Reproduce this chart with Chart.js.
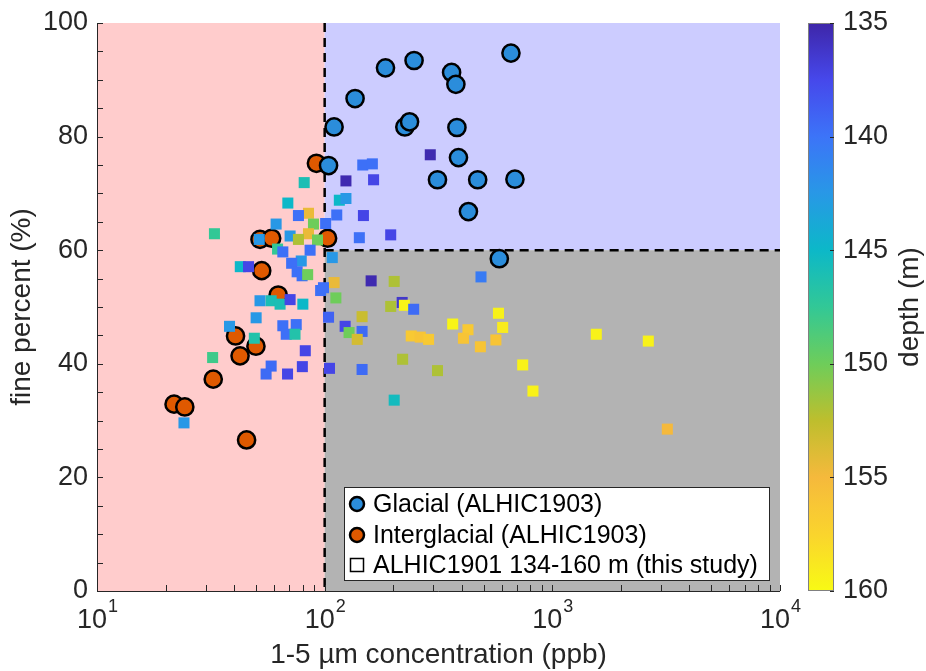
<!DOCTYPE html>
<html>
<head>
<meta charset="utf-8">
<script src="https://cdn.jsdelivr.net/npm/chart.js@4.4.1/dist/chart.umd.min.js"></script>
<style>
  body { margin: 0; background: #fff; }
  #wrap { width: 926px; height: 671px; }
</style>
</head>
<body>
<div id="wrap"><canvas id="chart" width="926" height="671"></canvas></div>
<script>
// Glacial samples (ALHIC1903)
const glacialX = [658, 185, 247, 361, 377, 136, 110, 225, 236, 381, 104, 387, 313, 470, 685, 428, 585];
const glacialY = [94.7, 92.1, 93.4, 91.3, 89.2, 86.7, 81.7, 81.7, 82.6, 81.6, 74.9, 76.3, 72.4, 72.4, 72.5, 66.8, 58.5];

// Interglacial samples (ALHIC1903)
const interX = [52, 58.5, 103, 92, 52.9, 62.5, 40.6, 49.9, 42.5, 32.4, 21.8, 24.3, 45.4];
const interY = [61.9, 62.1, 62.1, 75.3, 56.4, 52.1, 44.9, 43.1, 41.4, 37.3, 32.9, 32.4, 26.6];

// ALHIC1901 134-160 m samples, coloured by depth
const sqX = [68.9, 84.9, 76.7, 113, 61.2, 89.3, 101, 32.8, 51.6, 70.5,
             84.9, 76.7, 93.0, 62.1, 65.5, 86.3, 108, 42.6, 46.3, 78.9,
             71.6, 75.7, 79.6, 84.2, 110, 96.0, 98.8, 112, 52.0, 58.2,
             63.7, 70.5, 80.2, 50.0, 104, 38.2, 65.5, 75.0, 67.8, 74.1,
             49.1, 82.2, 32.2, 58.2, 55.3, 68.7, 79.8, 105, 24.1, 81.3,
             124, 116, 124, 147, 162, 164, 291, 148, 142, 195,
             486, 160, 202, 219, 224, 195, 246, 146, 123, 128,
             146, 139, 365, 426, 580, 605, 240, 263, 286, 407,
             483, 565, 146, 220, 313, 741, 822, 202, 1560, 2640, 3200];
const sqY = [68.3, 66.5, 66.1, 66.2, 64.6, 64.6, 64.7, 62.9, 61.9, 62.5,
             62.9, 61.9, 61.8, 60.2, 59.7, 60.0, 58.7, 57.1, 57.1, 58.1,
             57.7, 56.2, 55.5, 55.7, 54.3, 52.9, 53.4, 51.6, 51.1, 51.1,
             50.5, 51.3, 50.5, 48.1, 48.2, 46.6, 46.7, 46.9, 45.2, 45.2,
             44.5, 42.3, 41.1, 39.6, 38.2, 38.2, 39.5, 39.2, 29.6, 71.9,
             72.2, 68.8, 69.1, 75.0, 75.2, 72.4, 76.8, 66.1, 62.2, 62.7,
             55.3, 54.6, 54.5, 50.8, 50.3, 50.1, 49.6, 48.3, 46.6, 45.5,
             45.7, 44.3, 47.0, 46.0, 48.9, 46.4, 44.9, 44.7, 44.3, 44.5,
             43.0, 44.2, 39.0, 40.8, 38.8, 39.8, 35.2, 33.6, 45.2, 44.0, 28.5];
const sqDepth = [145, 154.5, 139.8, 139.8, 142.5, 150, 139.8, 147.5, 142.5, 142.5,
                 154.5, 152, 150, 147.5, 139.8, 139.8, 142.5, 145, 137.3, 142.5,
                 139.8, 139.8, 139.8, 150, 154.5, 139.8, 139.8, 150, 142.5, 146,
                 146, 137.3, 145, 142.5, 139, 142.5, 139.8, 139.8, 139.8, 146.5,
                 146.5, 137.3, 148, 139.5, 139.5, 137.3, 137.3, 137.3, 142.5, 146,
                 135.3, 145, 142.5, 139.8, 139.8, 137.3, 135.3, 137.3, 139.8, 137.3,
                 140.5, 135.3, 152, 136.3, 159.7, 152, 139.5, 153, 137.3, 150,
                 139.5, 153.5, 159.7, 156.5, 159.5, 159, 156.5, 156, 156.5, 156,
                 156, 156, 139.5, 152, 152, 159.5, 159.5, 145.5, 159.5, 159.5, 155];

const xDecades = [10, 100, 1000, 10000];
const yTicks = [0, 20, 40, 60, 80, 100];
const depthTicks = [135, 140, 145, 150, 155, 160];
const depthMin = 135, depthMax = 160;
const xSplit = 100, ySplit = 60;

// parula-like colour ramp
const PARULA = [
    [0.00, 62, 38, 168], [0.10, 70, 72, 235], [0.20, 60, 116, 248], [0.30, 40, 152, 230],
    [0.40, 12, 184, 200], [0.50, 50, 200, 150], [0.60, 110, 205, 90], [0.70, 190, 190, 45],
    [0.80, 245, 185, 60], [0.90, 250, 212, 45], [1.00, 248, 250, 20]
];
function parula(t) {
    t = Math.max(0, Math.min(1, t));
    for (let i = 1; i < PARULA.length; i++) {
        if (t <= PARULA[i][0]) {
            const a = PARULA[i - 1], b = PARULA[i];
            const f = (t - a[0]) / (b[0] - a[0]);
            const c = [1, 2, 3].map(k => Math.round(a[k] + (b[k] - a[k]) * f));
            return `rgb(${c[0]},${c[1]},${c[2]})`;
        }
    }
    return 'rgb(248,250,20)';
}
const depthColor = d => parula((d - depthMin) / (depthMax - depthMin));

const FONT = '"Liberation Sans", Arial, Helvetica, sans-serif';
const INK = '#262626';

// background patches + dashed split lines
const regionsPlugin = {
    id: 'regions',
    beforeDatasetsDraw(chart) {
        const { ctx, chartArea: a, scales: { x, y } } = chart;
        const xs = x.getPixelForValue(xSplit), ys = y.getPixelForValue(ySplit);
        ctx.save();
        ctx.fillStyle = '#ffcccc';
        ctx.fillRect(a.left, a.top, xs - a.left, a.bottom - a.top);
        ctx.fillStyle = '#ccccff';
        ctx.fillRect(xs, a.top, a.right - xs, ys - a.top);
        ctx.fillStyle = '#b3b3b3';
        ctx.fillRect(xs, ys, a.right - xs, a.bottom - ys);
        ctx.strokeStyle = '#000';
        ctx.lineWidth = 2.5;
        ctx.setLineDash([9, 6]);
        ctx.beginPath();
        ctx.moveTo(xs, a.top); ctx.lineTo(xs, a.bottom);
        ctx.moveTo(xs, ys); ctx.lineTo(a.right, ys);
        ctx.stroke();
        ctx.restore();
    }
};

// axes, ticks, labels, colorbar, legend
const decorPlugin = {
    id: 'decor',
    afterDraw(chart) {
        const { ctx, chartArea: a, scales: { x, y } } = chart;
        ctx.save();
        ctx.strokeStyle = INK;
        ctx.lineWidth = 1;
        ctx.beginPath();
        ctx.moveTo(a.left + 0.5, a.top); ctx.lineTo(a.left + 0.5, a.bottom + 0.5);
        ctx.lineTo(a.right, a.bottom + 0.5);
        ctx.stroke();

        // y ticks (major + minor every 5)
        ctx.beginPath();
        for (let v = 0; v <= 100; v += 5) {
            const py = Math.round(y.getPixelForValue(v)) + 0.5;
            ctx.moveTo(a.left, py); ctx.lineTo(a.left + 6, py);
        }
        // x ticks (log decades + minors)
        for (let d = 0; d < xDecades.length; d++) {
            const base = xDecades[d];
            const top = d === xDecades.length - 1 ? 1 : 9;
            for (let m = 1; m <= top; m++) {
                const px = Math.round(x.getPixelForValue(base * m)) + 0.5;
                ctx.moveTo(px, a.bottom); ctx.lineTo(px, a.bottom - 6);
            }
        }
        ctx.stroke();

        ctx.fillStyle = INK;
        ctx.font = `27px ${FONT}`;
        ctx.textAlign = 'right';
        ctx.textBaseline = 'middle';
        yTicks.forEach(v => ctx.fillText(String(v), a.left - 9, y.getPixelForValue(v)));

        xDecades.forEach(v => {
            const px = x.getPixelForValue(v);
            const exp = String(Math.round(Math.log10(v)));
            ctx.font = `27px ${FONT}`;
            const wb = ctx.measureText('10').width;
            ctx.font = `18px ${FONT}`;
            const we = ctx.measureText(exp).width;
            const x0 = px - (wb + we) / 2;
            ctx.textAlign = 'left';
            ctx.font = `27px ${FONT}`;
            ctx.fillText('10', x0, 621);
            ctx.font = `18px ${FONT}`;
            ctx.fillText(exp, x0 + wb + 1, 607);
        });

        // axis titles
        ctx.font = `28px ${FONT}`;
        ctx.textAlign = 'center';
        ctx.fillText('1-5 \u00b5m concentration (ppb)', (a.left + a.right) / 2, 655);
        ctx.save();
        ctx.translate(22, (a.top + a.bottom) / 2);
        ctx.rotate(-Math.PI / 2);
        ctx.fillText('fine percent (%)', 0, 0);
        ctx.restore();

        // colorbar
        const cbL = 808, cbW = 26, cbT = a.top, cbB = a.bottom;
        const grad = ctx.createLinearGradient(0, cbT, 0, cbB);
        for (let i = 0; i <= 20; i++) grad.addColorStop(i / 20, parula(i / 20));
        ctx.fillStyle = grad;
        ctx.fillRect(cbL, cbT, cbW, cbB - cbT);
        ctx.strokeStyle = '#808080';
        ctx.strokeRect(cbL + 0.5, cbT + 0.5, cbW - 1, cbB - cbT - 1);
        ctx.strokeStyle = INK;
        ctx.fillStyle = INK;
        ctx.textAlign = 'left';
        ctx.font = `27px ${FONT}`;
        depthTicks.forEach(v => {
            const py = cbT + (v - depthMin) / (depthMax - depthMin) * (cbB - cbT);
            ctx.beginPath();
            ctx.moveTo(cbL + cbW - 4, Math.round(py) + 0.5);
            ctx.lineTo(cbL + cbW, Math.round(py) + 0.5);
            ctx.stroke();
            ctx.fillText(String(v), cbL + cbW + 9, py);
        });
        ctx.save();
        ctx.translate(910, (cbT + cbB) / 2);
        ctx.rotate(-Math.PI / 2);
        ctx.textAlign = 'center';
        ctx.font = `28px ${FONT}`;
        ctx.fillText('depth (m)', 0, 0);
        ctx.restore();

        // legend
        const lg = { l: 344, t: 487, r: 769, b: 580 };
        ctx.fillStyle = '#fff';
        ctx.fillRect(lg.l, lg.t, lg.r - lg.l, lg.b - lg.t);
        ctx.strokeStyle = INK;
        ctx.lineWidth = 1;
        ctx.strokeRect(lg.l + 0.5, lg.t + 0.5, lg.r - lg.l, lg.b - lg.t);
        const rows = [504, 535, 565];
        const ds = chart.data.datasets;
        ctx.font = `25px ${FONT}`;
        ctx.textAlign = 'left';
        rows.forEach((ry, i) => {
            const mx = 357;
            if (i < 2) {
                ctx.beginPath();
                ctx.arc(mx, ry, 7, 0, Math.PI * 2);
                ctx.fillStyle = ds[i].backgroundColor;
                ctx.fill();
                ctx.lineWidth = 2.5;
                ctx.strokeStyle = '#000';
                ctx.stroke();
            } else {
                ctx.lineWidth = 1.5;
                ctx.strokeStyle = '#000';
                ctx.strokeRect(mx - 6.5, ry - 6.5, 13, 13);
            }
            ctx.fillStyle = '#000';
            ctx.fillText(ds[i].label, 373, ry + 1);
        });
        ctx.restore();
    }
};

new Chart(document.getElementById('chart'), {
    type: 'scatter',
    data: {
        datasets: [
            {
                label: 'Glacial (ALHIC1903)',
                data: glacialX.map((v, i) => ({ x: v, y: glacialY[i] })),
                backgroundColor: '#2b8ddb', borderColor: '#000', borderWidth: 2.5,
                pointRadius: 8.6, pointHoverRadius: 8.6, order: 1
            },
            {
                label: 'Interglacial (ALHIC1903)',
                data: interX.map((v, i) => ({ x: v, y: interY[i] })),
                backgroundColor: '#df5900', borderColor: '#000', borderWidth: 2.5,
                pointRadius: 8.6, pointHoverRadius: 8.6, order: 2
            },
            {
                label: 'ALHIC1901 134-160 m (this study)',
                data: sqX.map((v, i) => ({ x: v, y: sqY[i] })),
                pointStyle: 'rect', pointRadius: 7.8, pointHoverRadius: 7.8,
                backgroundColor: sqDepth.map(depthColor), borderWidth: 0, order: 0
            }
        ]
    },
    options: {
        responsive: false,
        animation: false,
        layout: { padding: { left: 97, top: 23, right: 146, bottom: 80 } },
        scales: {
            x: { type: 'logarithmic', min: 10, max: 10000, display: false },
            y: { min: 0, max: 100, display: false }
        },
        plugins: { legend: { display: false }, tooltip: { enabled: false } }
    },
    plugins: [regionsPlugin, decorPlugin]
});
</script>
</body>
</html>
